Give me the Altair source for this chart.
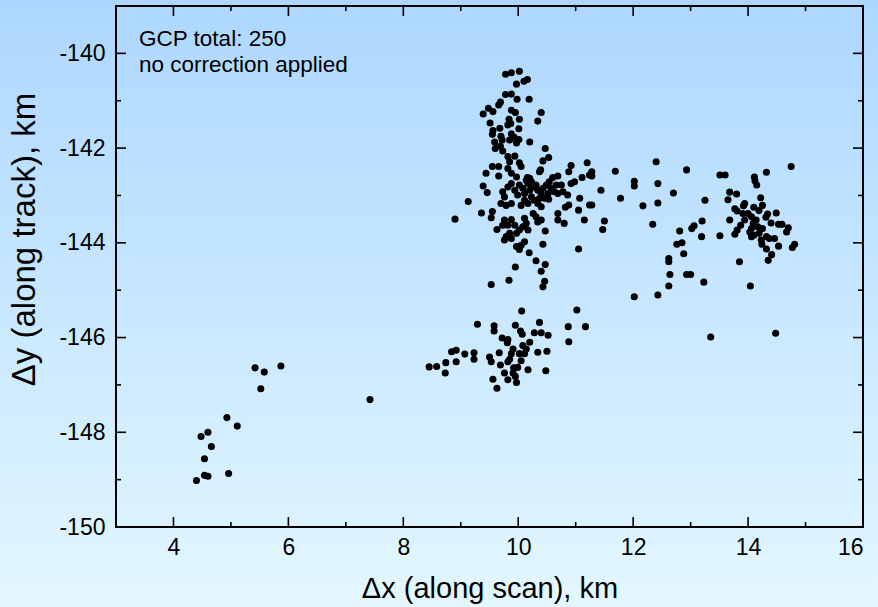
import altair as alt
import pandas as pd

# GCP offsets (km): along-scan dx, along-track dy, grouped by where they fall
main_upper = [
    (9.78, -140.44), (9.88, -140.41), (10.02, -140.38), (9.97, -140.65), (10.10, -140.59),
    (10.16, -140.55), (9.78, -140.87), (9.88, -140.86), (9.98, -140.97), (10.19, -140.97),
    (9.69, -141.03), (9.66, -141.09), (9.48, -141.16), (9.56, -141.23), (9.39, -141.28),
    (9.88, -141.20), (9.95, -141.25), (10.40, -141.25), (10.34, -141.43), (9.84, -141.39),
    (9.87, -141.48), (10.02, -141.39), (9.82, -141.51), (9.51, -141.47), (10.01, -141.59),
    (9.56, -141.63), (9.68, -141.58), (9.55, -141.71), (9.70, -141.75), (9.88, -141.70),
    (9.93, -141.77), (10.01, -141.82), (9.85, -141.83), (9.59, -141.87), (9.72, -141.83),
    (9.97, -141.89), (10.20, -141.87), (9.69, -141.96), (9.60, -142.01), (9.73, -142.06),
    (10.47, -142.01), (9.82, -142.18), (9.94, -142.17), (10.53, -142.20), (10.43, -142.27),
    (9.85, -142.29), (10.02, -142.31), (9.55, -142.39), (9.66, -142.39), (9.82, -142.43),
    (10.05, -142.39), (10.39, -142.46), (9.44, -142.53), (9.66, -142.59), (9.88, -142.53),
    (9.97, -142.61), (10.92, -142.37), (11.20, -142.31), (10.88, -142.50), (10.69, -142.59),
    (10.60, -142.62), (10.20, -142.64),
]

main_core = [
    (10.16, -142.62), (10.37, -142.50), (11.11, -142.62), (10.98, -142.71), (10.92, -142.75),
    (11.24, -142.57), (9.39, -142.80), (9.46, -142.94), (9.13, -143.13),
    (9.73, -142.92), (9.76, -143.03), (9.70, -143.17), (9.82, -142.82), (9.88, -142.75),
    (9.94, -142.89), (10.02, -142.78), (10.08, -142.85), (10.11, -142.96), (10.17, -142.75),
    (10.20, -142.89), (10.26, -142.82), (10.31, -142.78), (10.34, -142.89), (10.40, -142.96),
    (10.23, -143.03), (10.28, -143.10), (10.17, -143.17), (10.05, -143.21), (9.88, -143.17),
    (9.79, -143.21), (10.43, -142.85), (10.49, -142.78), (10.54, -142.71), (10.57, -142.85),
    (10.63, -142.92), (10.46, -143.06), (10.53, -143.08), (10.66, -142.78), (10.75, -142.78),
    (10.78, -142.92), (10.86, -142.99), (10.69, -142.96), (10.34, -143.17), (10.40, -143.24),
    (10.14, -142.68), (10.23, -142.71), (9.99, -142.99), (10.37, -143.06), (10.52, -142.96),
    (10.11, -143.10),
]

main_lower = [
    (11.07, -143.06), (10.88, -143.20), (10.82, -143.25), (11.05, -143.31), (11.24, -143.20),
    (11.15, -143.52), (10.69, -143.38), (10.69, -143.52), (10.80, -143.59), (9.36, -143.37),
    (9.55, -143.34), (9.53, -143.47), (10.26, -143.38), (10.31, -143.45), (10.40, -143.52),
    (10.34, -143.56), (9.76, -143.52), (9.88, -143.51), (9.73, -143.63), (9.82, -143.63),
    (9.94, -143.63), (10.11, -143.48), (10.14, -143.59), (10.08, -143.66), (10.17, -143.73),
    (10.02, -143.73), (9.97, -143.80), (9.85, -143.80), (9.79, -143.87), (9.88, -143.91),
    (9.76, -143.94), (9.63, -143.72), (10.47, -143.75), (10.11, -143.98), (10.05, -144.05),
    (9.97, -144.08), (10.02, -144.14), (10.43, -144.03), (10.19, -144.21), (11.05, -144.13),
    (10.31, -144.38), (10.47, -144.46), (9.95, -144.51), (10.40, -144.60), (9.84, -144.79),
    (10.46, -144.81), (10.43, -144.93), (9.53, -144.88), (8.90, -143.50),
]

middle_band = [
    (11.28, -142.50), (11.28, -142.59), (11.69, -142.49), (12.40, -142.29), (12.93, -142.46),
    (13.51, -142.57), (12.02, -142.70), (12.02, -142.80), (12.43, -142.75), (11.44, -142.89),
    (11.78, -143.06), (12.70, -142.95), (11.28, -143.20), (12.17, -143.22), (12.43, -143.16),
    (13.25, -143.10), (11.50, -143.54), (11.47, -143.72), (12.34, -143.61), (12.81, -143.75),
    (13.02, -143.70), (13.06, -143.64), (13.20, -143.54), (13.19, -143.87), (13.51, -143.85),
    (12.76, -144.03), (12.85, -144.00), (12.88, -144.23), (12.62, -144.33), (12.62, -144.40),
    (12.64, -144.67), (12.93, -144.67), (13.00, -144.67), (12.62, -144.91), (13.23, -144.83),
    (12.43, -145.10), (12.02, -145.14),
]

right_cluster = [
    (14.75, -142.39), (13.60, -142.57), (14.32, -142.51), (14.11, -142.61), (14.12, -142.69),
    (14.15, -142.78), (13.68, -142.93), (13.80, -142.97), (13.65, -143.09), (14.22, -143.05),
    (13.92, -143.22), (13.77, -143.28), (13.81, -143.33), (14.49, -143.37), (13.68, -143.52),
    (13.94, -143.52), (14.40, -143.58), (14.53, -143.61), (14.59, -143.61), (14.70, -143.68),
    (14.67, -143.77), (14.46, -143.91), (14.24, -144.03), (14.32, -144.13), (14.53, -144.07),
    (14.81, -144.03), (14.77, -144.10), (14.41, -144.25), (14.35, -144.37), (13.85, -144.40),
    (14.10, -143.25), (14.25, -143.21), (14.19, -143.32), (14.34, -143.39), (14.31, -143.46),
    (14.00, -143.38), (13.91, -143.38), (14.06, -143.45), (14.14, -143.52), (14.09, -143.59),
    (14.06, -143.70), (14.03, -143.77), (14.17, -143.66), (14.25, -143.70), (14.19, -143.80),
    (14.10, -143.84), (14.06, -143.87), (14.32, -143.87), (14.37, -143.91), (14.23, -143.94),
    (13.87, -143.63), (13.81, -143.73), (13.77, -143.82), (13.94, -143.17),
    (14.04, -144.91), (13.35, -145.99), (14.48, -145.91),
]

lower_cluster = [
    (10.06, -145.44), (11.02, -145.42), (10.87, -145.77), (11.17, -145.77), (10.88, -146.09),
    (9.29, -145.72), (9.58, -145.75), (9.58, -145.86), (9.95, -145.74), (10.04, -145.86),
    (10.07, -145.93), (10.37, -145.68), (10.28, -145.90), (10.40, -145.90), (10.52, -145.95),
    (9.72, -146.01), (9.82, -146.04), (9.81, -146.11), (10.20, -146.10), (10.08, -146.17),
    (10.14, -146.24), (9.91, -146.24), (9.88, -146.34), (10.02, -146.34), (10.11, -146.34),
    (10.34, -146.31), (10.50, -146.29), (9.67, -146.32), (8.92, -146.27), (8.84, -146.30),
    (9.07, -146.35), (9.23, -146.32), (9.23, -146.46), (9.50, -146.41), (9.53, -146.51),
    (9.85, -146.46), (9.82, -146.51), (10.05, -146.49), (9.69, -146.58), (8.92, -146.51),
    (8.74, -146.53), (8.45, -146.62), (8.58, -146.61), (8.73, -146.75), (9.92, -146.64),
    (9.99, -146.63), (9.91, -146.75), (10.17, -146.68), (10.48, -146.70), (9.76, -146.75),
    (9.95, -146.82), (9.56, -146.88), (9.82, -146.89), (9.97, -146.95), (9.63, -147.07),
]

far_left = [
    (5.42, -146.64), (5.58, -146.73), (5.87, -146.60), (5.52, -147.08), (7.42, -147.31),
    (4.93, -147.69), (5.11, -147.87), (4.60, -148.00), (4.48, -148.09), (4.66, -148.30),
    (4.54, -148.56), (4.96, -148.87), (4.54, -148.91), (4.60, -148.93), (4.40, -149.02),
]

x_labels = [4, 6, 8, 10, 12, 14, 16]
x_minor = [5, 7, 9, 11, 13, 15]
y_labels = [-150, -148, -146, -144, -142, -140]
y_minor = [-149, -147, -145, -143, -141]

note_lines = ["GCP total: 250", "no correction applied"]
x_title = "Δx (along scan), km"
y_title = "Δy (along track), km"

points = pd.DataFrame(
    main_upper + main_core + main_lower + middle_band + right_cluster + lower_cluster + far_left,
    columns=["dx", "dy"],
)

W, H = 747, 521
PAD = {"left": 116, "top": 6, "right": 15, "bottom": 80}
SANS = "Liberation Sans, Arial, sans-serif"

x_scale = alt.Scale(domain=[3, 16], nice=False, zero=False)
y_scale = alt.Scale(domain=[-150, -139], nice=False, zero=False)

# shared axis definitions: labels and titles only (ticks are drawn as inward rules),
# raised above the backdrop layer; plain hyphen for negative labels
x_axis = alt.Axis(
    values=x_labels, ticks=False, tickSize=0, domain=False, grid=False, zindex=2,
    labelExpr="'' + datum.value",
    labelFont=SANS, labelFontSize=23, labelColor="black", labelPadding=9,
    title=x_title, titleFont=SANS, titleFontSize=29, titleFontWeight="normal",
    titleColor="black", titleY=70, titleBaseline="alphabetic",
)
y_axis = alt.Axis(
    values=y_labels, ticks=False, tickSize=0, domain=False, grid=False, zindex=2,
    labelExpr="'' + datum.value",
    labelFont=SANS, labelFontSize=23, labelColor="black", labelPadding=11,
    title=y_title, titleFont=SANS, titleFontSize=33, titleFontWeight="normal",
    titleColor="black", titleX=-82, titleY=233, titleAngle=270,
    titleAlign="center", titleBaseline="alphabetic",
)

one_row = alt.Data(values=[{}])

# sky-blue gradient behind the whole figure
backdrop = alt.Chart(one_row).mark_rect(
    color=alt.Gradient(
        gradient="linear",
        stops=[alt.GradientStop(color="#ADD7FF", offset=0),
               alt.GradientStop(color="#E3F7FF", offset=1)],
        x1=0, x2=0, y1=0, y2=1,
    )
).encode(
    x=alt.value(-PAD["left"]), x2=alt.value(W + PAD["right"]),
    y=alt.value(-PAD["top"]), y2=alt.value(H + PAD["bottom"]),
)


def ticks(values, side, length):
    """Inward-pointing tick marks on one side of the frame."""
    base = alt.Chart(pd.DataFrame({"v": values})).mark_rule(color="black", strokeWidth=1.6)
    if side == "bottom":
        enc = dict(x=alt.X("v:Q", scale=x_scale, axis=x_axis), y=alt.value(H), y2=alt.value(H - length))
    elif side == "top":
        enc = dict(x=alt.X("v:Q", scale=x_scale, axis=x_axis), y=alt.value(0), y2=alt.value(length))
    elif side == "left":
        enc = dict(y=alt.Y("v:Q", scale=y_scale, axis=y_axis), x=alt.value(0), x2=alt.value(length))
    else:
        enc = dict(y=alt.Y("v:Q", scale=y_scale, axis=y_axis), x=alt.value(W), x2=alt.value(W - length))
    return base.encode(**enc)


tick_layers = []
for side in ("bottom", "top"):
    tick_layers.append(ticks(x_labels, side, 10))
    tick_layers.append(ticks(x_minor, side, 5))
for side in ("left", "right"):
    tick_layers.append(ticks(y_labels, side, 10))
    tick_layers.append(ticks(y_minor, side, 5))

dots = alt.Chart(points).mark_circle(size=50, color="black", opacity=1).encode(
    x=alt.X("dx:Q", scale=x_scale, axis=x_axis),
    y=alt.Y("dy:Q", scale=y_scale, axis=y_axis),
)

frame = alt.Chart(one_row).mark_rect(fillOpacity=0, stroke="black", strokeWidth=2).encode(
    x=alt.value(0), x2=alt.value(W), y=alt.value(0), y2=alt.value(H)
)

note = alt.Chart(one_row).mark_text(
    align="left", baseline="alphabetic", font=SANS, fontSize=22.5, lineHeight=26, color="black"
).encode(x=alt.value(23), y=alt.value(40), text=alt.value(note_lines))

chart = alt.layer(backdrop, *tick_layers, dots, frame, note).properties(
    width=W, height=H, padding=PAD,
    autosize=alt.AutoSizeParams(type="none"),
    background="#E3F7FF",
).configure_view(stroke="transparent")

chart.save("out.html", embed_options={"renderer": "svg", "actions": False})
